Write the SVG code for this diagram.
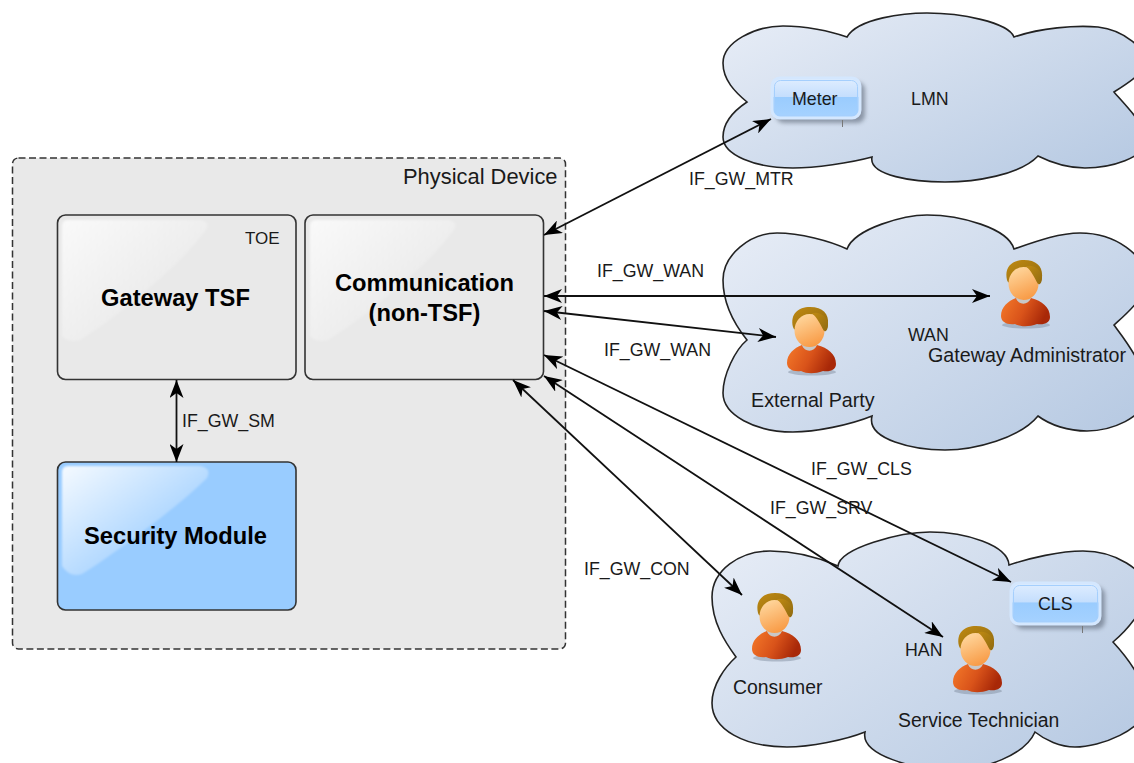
<svg xmlns="http://www.w3.org/2000/svg" width="1134" height="763" viewBox="0 0 1134 763">
<style>
text{font-family:"Liberation Sans",Arial,sans-serif;fill:#1a1a1a}
.l{font-size:17.800px}
.a{font-size:19.400px}
.b{font-size:23.700px;font-weight:bold;fill:#000;text-anchor:middle}
.cloud{fill:url(#cg);stroke:#222;stroke-width:1.6}
.box{stroke:#333;stroke-width:1.6}
.con{fill:none;stroke:#111;stroke-width:1.8;marker-start:url(#ah);marker-end:url(#ah)}
.btn{fill:url(#bt);stroke:#d4e7fe;stroke-width:3}
.inn{fill:none;stroke:#a5cffd;stroke-width:1}
.tick{stroke:#777;stroke-width:1}
</style>
<defs>
<linearGradient id="cg" x1="0" y1="0.1" x2="1" y2="0.9"><stop offset="0" stop-color="#e6ecf6"/><stop offset="1" stop-color="#b6c9e2"/></linearGradient>
<linearGradient id="gl" x1="0" y1="0" x2="1" y2="1"><stop offset="0" stop-color="#fff" stop-opacity=".75"/><stop offset=".7" stop-color="#fff" stop-opacity=".08"/><stop offset="1" stop-color="#fff" stop-opacity=".03"/></linearGradient>
<linearGradient id="gs" x1="0" y1="0" x2="1" y2="1"><stop offset="0" stop-color="#fff" stop-opacity=".9"/><stop offset=".7" stop-color="#fff" stop-opacity=".12"/><stop offset="1" stop-color="#fff" stop-opacity=".06"/></linearGradient>
<linearGradient id="bt" x1="0" y1="0" x2="0" y2="1"><stop offset="0" stop-color="#e0eeff"/><stop offset=".47" stop-color="#c4defd"/><stop offset=".48" stop-color="#9accfe"/><stop offset="1" stop-color="#a6d2ff"/></linearGradient>
<linearGradient id="sk" x1="0.2" y1="0" x2="0.6" y2="1"><stop offset="0" stop-color="#ffd9a0"/><stop offset="1" stop-color="#f89a45"/></linearGradient>
<linearGradient id="hr" x1="0" y1="0" x2="1" y2="1"><stop offset="0" stop-color="#c08a12"/><stop offset="1" stop-color="#8f6a10"/></linearGradient>
<linearGradient id="sh" x1="0" y1="0" x2="1" y2="0.3"><stop offset="0" stop-color="#f57a2a"/><stop offset=".55" stop-color="#d9531a"/><stop offset="1" stop-color="#a82808"/></linearGradient>
<filter id="bl" x="-20%" y="-20%" width="140%" height="140%"><feGaussianBlur stdDeviation="2"/></filter>
<filter id="sf" x="-5%" y="-5%" width="110%" height="110%"><feGaussianBlur stdDeviation="1"/></filter>
<marker id="ah" viewBox="0 0 18 14" refX="18" refY="7" markerWidth="18" markerHeight="14" markerUnits="userSpaceOnUse" orient="auto-start-reverse"><path d="M0 0L18 7L0 14L5 7Z" fill="#000"/></marker>
<symbol id="person" viewBox="0 0 50 70" width="50" height="70" overflow="visible">
<ellipse cx="25" cy="65" rx="24" ry="3.500" fill="#7a8798" opacity=".45"/>
<path d="M14 34H30V47H14Z" fill="#c8c8c8"/>
<path d="M0 56C0 47 7 41 15 38C17 45 27 46 30 38C41 41 49 47 49 57C49 63 43 65 36 64C28 67 20 67 14 64C6 65 0 62 0 56Z" fill="url(#sh)"/>
<path d="M6 20C3 7 11 0 23 0C36 0 42 7 41 17C41 23 39 25 37 24C35 18 30 12 27 8C20 7 12 10 9 21C8 23 7 23 6 20Z" fill="url(#hr)"/>
<ellipse cx="22.500" cy="23.500" rx="15" ry="16.500" fill="url(#sk)"/>
<path d="M25 6.500C30 10 33 17 37 24C40 23 41 20 41 15C38 8 31 4 25 6.500Z" fill="url(#hr)"/>
</symbol>
</defs>

<g id="cloud-lmn"><path class="cloud" d="M847 37C858 18 905 13 927 13C960 13 1008 22 1014 37C1040 28 1075 25 1098 27C1125 30 1146 50 1146 62C1146 72 1125 85 1114 92C1125 105 1146 125 1146 140C1146 158 1110 168 1085 168C1068 168 1050 162 1038 156C1020 175 975 182 945 182C915 182 868 176 872 157C850 163 815 168 793 168C755 168 723 155 723 137C723 122 735 110 747 102C735 92 723 80 723 63C723 42 755 26 783 26C805 26 830 31 847 37Z"/></g>
<g id="cloud-wan"><path class="cloud" d="M847 249C855 228 905 215 927 215C960 215 1008 228 1014 249C1040 240 1060 233 1080 233C1115 233 1146 255 1146 280C1146 298 1125 315 1114 325C1125 340 1146 365 1146 395C1146 418 1110 431 1087 431C1068 431 1050 425 1038 416C1020 438 975 450 945 450C915 450 866 440 872 416C850 425 815 432 793 432C755 432 723 415 723 393C723 375 735 350 747 340C735 325 723 305 723 280C723 255 750 233 777 233C800 233 830 241 847 249Z"/></g>
<g id="cloud-han"><path class="cloud" d="M838 566C840 548 900 532 930 532C965 532 1008 545 1009 565C1030 558 1060 551 1083 551C1115 551 1146 570 1146 590C1146 610 1125 632 1113 642C1125 655 1146 680 1146 705C1146 730 1100 747 1075 747C1060 747 1045 740 1035 732C1025 755 985 770 950 770C915 770 860 755 865 732C845 740 810 747 787 747C745 747 712 730 712 703C712 685 725 667 736 657C725 642 712 622 712 597C712 570 740 551 770 551C795 551 820 558 838 566Z"/></g>

<g id="physical-device">
<rect x="12.500" y="158" width="553" height="491" rx="6" fill="#e9e9e9" stroke="#333" stroke-width="1.500" stroke-dasharray="7 3.500"/>
<text x="403" y="184" style="font-size:21.900px">Physical Device</text>
</g>
<g id="gateway-tsf">
<rect class="box" x="57.500" y="215" width="238.500" height="164.500" rx="8" fill="#e9e9e9"/>
<path filter="url(#sf)" d="M62 226Q62 220 68 220H200Q212 222 205 231C180 265 120 315 80 340Q68 343 62 336Z" fill="url(#gl)"/>
<text class="l" x="245" y="244" style="font-size:17px">TOE</text>
<text class="b" x="175.500" y="306">Gateway TSF</text>
</g>
<g id="communication">
<rect class="box" x="305" y="215" width="238.500" height="164.500" rx="8" fill="#e9e9e9"/>
<path filter="url(#sf)" d="M310 226Q310 220 316 220H448Q460 222 453 231C428 265 368 315 328 340Q316 343 310 336Z" fill="url(#gl)"/>
<text class="b" x="424.500" y="291">Communication</text>
<text class="b" x="424.500" y="321">(non-TSF)</text>
</g>
<g id="security-module">
<rect class="box" x="57.500" y="462" width="238.500" height="148" rx="8" fill="#99ccff"/>
<path filter="url(#sf)" d="M62 472Q62 466 68 466H200Q212 468 207 478C180 505 120 550 82 574Q70 578 62 566Z" fill="url(#gs)"/>
<text class="b" x="175.500" y="544">Security Module</text>
</g>

<g id="connectors">
<path class="con" d="M176.500 380V462"/>
<path class="con" d="M544 235L771 119"/>
<path class="con" d="M544 296H990"/>
<path class="con" d="M544 311L776 337"/>
<path class="con" d="M544 355L1011 582"/>
<path class="con" d="M544 376L943 637"/>
<path class="con" d="M513 380L742 595"/>
</g>

<g id="meter">
<rect x="776" y="82" width="89" height="41" rx="8" fill="#5d6878" opacity=".6" filter="url(#bl)"/>
<rect class="btn" x="772" y="78" width="88" height="40" rx="8"/>
<rect class="inn" x="774.500" y="80.500" width="83" height="35" rx="6"/>
<path class="tick" d="M842.500 120V127"/>
<text class="l" x="792" y="105">Meter</text>
</g>
<g id="lmn"><text class="l" x="911" y="105">LMN</text></g>
<g id="wan"><text class="l" x="908" y="341">WAN</text></g>
<g id="han"><text class="l" x="905" y="656">HAN</text></g>
<g id="cls">
<rect x="1015" y="587" width="90" height="42" rx="8" fill="#5d6878" opacity=".6" filter="url(#bl)"/>
<rect class="btn" x="1011" y="583" width="89" height="41" rx="8"/>
<rect class="inn" x="1013.500" y="585.500" width="84" height="36" rx="6"/>
<path class="tick" d="M1082.500 626V633"/>
<text class="l" x="1038" y="610">CLS</text>
</g>
<g id="external-party">
<use href="#person" x="787" y="307"/>
<text class="a" x="751" y="407" style="font-size:19.700px">External Party</text>
</g>
<g id="gateway-administrator">
<use href="#person" x="1001" y="260"/>
<text class="a" x="928" y="362" style="font-size:19.700px">Gateway Administrator</text>
</g>
<g id="consumer">
<use href="#person" x="752" y="593"/>
<text class="a" x="733" y="694">Consumer</text>
</g>
<g id="service-technician">
<use href="#person" x="953" y="626"/>
<text class="a" x="898" y="727">Service Technician</text>
</g>

<g id="labels">
<text class="l" x="689" y="185">IF_GW_MTR</text>
<text class="l" x="597" y="277">IF_GW_WAN</text>
<text class="l" x="604" y="356">IF_GW_WAN</text>
<text class="l" x="182" y="427">IF_GW_SM</text>
<text class="l" x="811" y="475">IF_GW_CLS</text>
<text class="l" x="770" y="514">IF_GW_SRV</text>
<text class="l" x="584" y="575">IF_GW_CON</text>
</g>
</svg>
